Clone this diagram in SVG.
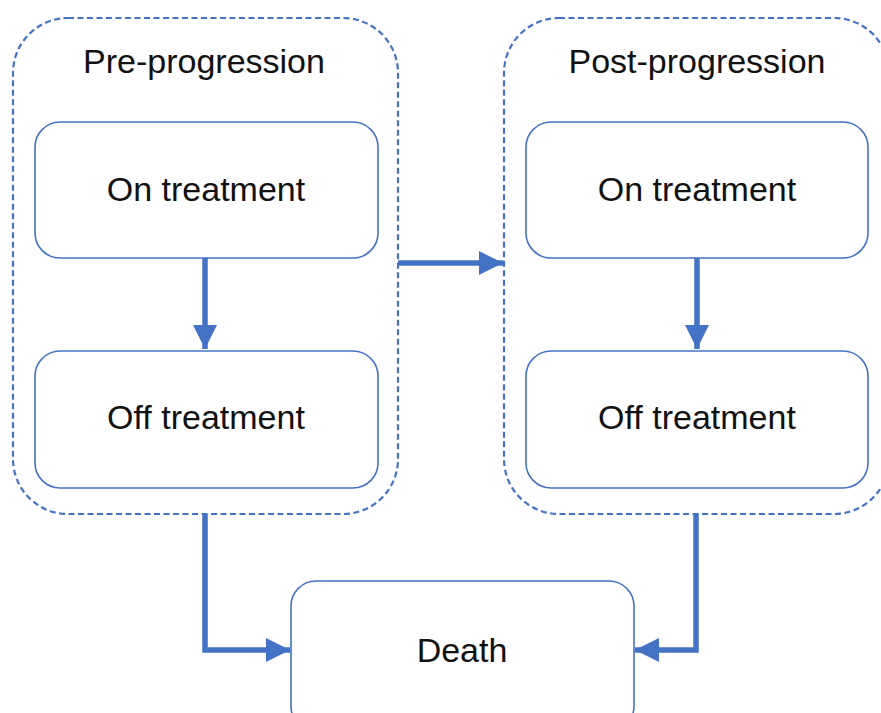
<svg xmlns="http://www.w3.org/2000/svg" width="881" height="713" viewBox="0 0 881 713">
<defs>
<style>
.grp{fill:none;stroke:#4472C4;stroke-width:2.2;stroke-dasharray:6 3.5}
.box{fill:#fff;stroke:#4472C4;stroke-width:1.6}
.lbl{font-family:"Liberation Sans",Arial,sans-serif;font-size:34px;fill:#111;text-anchor:middle}
.con{fill:none;stroke:#4472C4;stroke-width:5.5}
</style>
<marker id="ah" viewBox="0 0 10 10" refX="10" refY="5" markerUnits="userSpaceOnUse" markerWidth="24" markerHeight="24" orient="auto">
<path d="M0,0 L10,5 L0,10 Z" fill="#4472C4"/>
</marker>
</defs>
<rect width="881" height="713" fill="#fff"/>
<g id="pre-progression">
<rect class="grp" x="13" y="18" width="385" height="496" rx="55" ry="55"/>
<text class="lbl" x="204" y="73">Pre-progression</text>
</g>
<g id="post-progression">
<rect class="grp" x="504" y="18" width="385" height="496" rx="55" ry="55"/>
<text class="lbl" x="697" y="73">Post-progression</text>
</g>
<g id="pre-on">
<rect class="box" x="35" y="122" width="343" height="136" rx="25" ry="25"/>
<text class="lbl" x="206" y="201">On treatment</text>
</g>
<g id="pre-off">
<rect class="box" x="35" y="351" width="343" height="137" rx="25" ry="25"/>
<text class="lbl" x="206" y="429">Off treatment</text>
</g>
<g id="post-on">
<rect class="box" x="526" y="122" width="342" height="136" rx="25" ry="25"/>
<text class="lbl" x="697" y="201">On treatment</text>
</g>
<g id="post-off">
<rect class="box" x="526" y="351" width="342" height="137" rx="25" ry="25"/>
<text class="lbl" x="697" y="429">Off treatment</text>
</g>
<g id="death">
<rect class="box" x="291" y="581" width="343" height="150" rx="25" ry="25"/>
<text class="lbl" x="462" y="662">Death</text>
</g>
<g id="connectors">
<path class="con" d="M205,258 L205,349" marker-end="url(#ah)"/>
<path class="con" d="M697,258 L697,349" marker-end="url(#ah)"/>
<path class="con" d="M398,263 L503,263" marker-end="url(#ah)"/>
<path class="con" d="M205,514 L205,650 L290,650" marker-end="url(#ah)"/>
<path class="con" d="M696,514 L696,650 L635,650" marker-end="url(#ah)"/>
</g>
</svg>
